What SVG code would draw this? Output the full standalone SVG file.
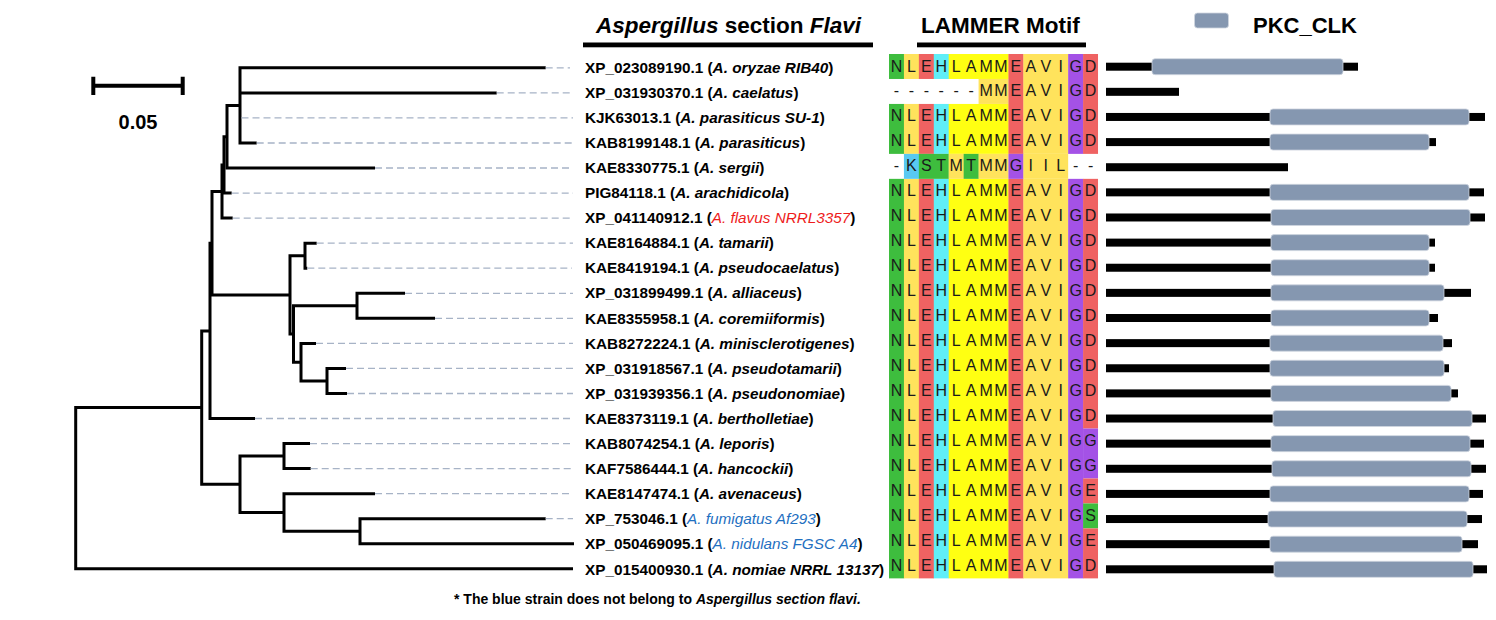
<svg xmlns="http://www.w3.org/2000/svg" width="1496" height="620" viewBox="0 0 1496 620">
<style>
.br{fill:none;stroke:#000;stroke-width:3}
.ld{fill:none;stroke:#a7b3c6;stroke-width:1.3;stroke-dasharray:7 4}
.lb{font-family:"Liberation Sans",Arial,sans-serif;font-weight:bold;font-size:15.3px;fill:#000}
.it{font-style:italic}
.rd{fill:#ee1c1c;font-weight:normal}
.bl{fill:#1f70c1;font-weight:normal}
.ti{font-family:"Liberation Sans",Arial,sans-serif;font-weight:bold;font-size:22.5px;fill:#000}
.mo{font-family:"Liberation Sans",Arial,sans-serif;font-size:16px;fill:#1a1a1a;text-anchor:middle}
.g{fill:#3ebd3e}.y{fill:#ffe35c}.r{fill:#ef6262}.c{fill:#60eef8}.Y{fill:#ffff12}.p{fill:#a452e6}.k{fill:#58c9f2}
.bk{fill:#000}
.dm{fill:#8597b0;stroke:#cfd6e0;stroke-width:0.8}
</style>
<rect width="1496" height="620" fill="#fff"/>

<!-- headers -->
<g id="header-tree">
<text class="ti" x="596" y="33"><tspan class="it">Aspergillus</tspan> section <tspan class="it">Flavi</tspan></text>
<rect x="583" y="42.5" width="290" height="4.8" fill="#000"/>
</g>
<g id="header-motif">
<text class="ti" x="921" y="33">LAMMER Motif</text>
<rect x="917" y="42.5" width="169" height="4.8" fill="#000"/>
</g>
<g id="legend">
<rect class="dm" x="1194.5" y="13" width="34" height="15" rx="3"/>
<text class="ti" x="1253" y="32.5" style="font-size:22px">PKC_CLK</text>
</g>
<g id="scale-bar">
<path d="M93.3,85.7H182.7M93.3,76.7V95M182.7,76.7V95" fill="none" stroke="#000" stroke-width="4"/>
<text x="138" y="129" text-anchor="middle" style="font-family:'Liberation Sans',Arial,sans-serif;font-weight:bold;font-size:20px">0.05</text>
</g>

<!-- tree connectors -->
<g id="connectors">
<path class="br" d="M545.7,67.8H240V143H256.7M240,92.9H496.7M240,117.9H241.5"/>
<path class="br" d="M240,105.4H227V168H375"/>
<path class="br" d="M227,136.7H224V193.1H231.7"/>
<path class="br" d="M224,164.9H222V218.1H232.7"/>
<path class="br" d="M222,191.5H212V294.9H290"/>
<path class="br" d="M212,243.2H210V418.5H255"/>
<path class="br" d="M210,330.9H201.7V484.3H240"/>
<path class="br" d="M201.7,407.6H75.7V568.8H573"/>
<path class="br" d="M305,255.7H290V334H293.5"/>
<path class="br" d="M316.7,243.2H305V268.2H307.3"/>
<path class="br" d="M357,305.8H293.5V362.2H301"/>
<path class="br" d="M405,293.3H357V318.3H435"/>
<path class="br" d="M316,343.4H301V381H327"/>
<path class="br" d="M346,368.4H327V393.5H347"/>
<path class="br" d="M284,456.1H240V512.5H284"/>
<path class="br" d="M310,443.6H284V468.6H310.7"/>
<path class="br" d="M375,493.7H284V531.3H360"/>
<path class="br" d="M545.7,518.7H360V543.8H574"/>
<path class="ld" d="M545.7,67.8H570M496.7,92.9H573M241.5,117.9H573M256.7,143H573M375,168H570M231.7,193.1H573M232.7,218.1H573M316.7,243.2H573M307.3,268.2H572M405,293.3H573M435,318.3H573M316,343.4H573M346,368.4H573M347,393.5H573M255,418.5H573M310,443.6H572M310.7,468.6H572M375,493.7H570M545.7,518.7H573"/>
</g>

<!-- taxa labels -->
<g id="taxon-0"><text class="lb" x="585" y="72.5">XP_023089190.1 (<tspan class="it">A. oryzae RIB40</tspan>)</text></g>
<g id="taxon-1"><text class="lb" x="585" y="97.6">XP_031930370.1 (<tspan class="it">A. caelatus</tspan>)</text></g>
<g id="taxon-2"><text class="lb" x="585" y="122.7">KJK63013.1 (<tspan class="it">A. parasiticus SU-1</tspan>)</text></g>
<g id="taxon-3"><text class="lb" x="585" y="147.8">KAB8199148.1 (<tspan class="it">A. parasiticus</tspan>)</text></g>
<g id="taxon-4"><text class="lb" x="585" y="172.9">KAE8330775.1 (<tspan class="it">A. sergii</tspan>)</text></g>
<g id="taxon-5"><text class="lb" x="585" y="198">PIG84118.1 (<tspan class="it">A. arachidicola</tspan>)</text></g>
<g id="taxon-6"><text class="lb" x="585" y="223.1">XP_041140912.1 (<tspan class="it rd">A. flavus NRRL3357</tspan>)</text></g>
<g id="taxon-7"><text class="lb" x="585" y="248.2">KAE8164884.1 (<tspan class="it">A. tamarii</tspan>)</text></g>
<g id="taxon-8"><text class="lb" x="585" y="273.3">KAE8419194.1 (<tspan class="it">A. pseudocaelatus</tspan>)</text></g>
<g id="taxon-9"><text class="lb" x="585" y="298.4">XP_031899499.1 (<tspan class="it">A. alliaceus</tspan>)</text></g>
<g id="taxon-10"><text class="lb" x="585" y="323.5">KAE8355958.1 (<tspan class="it">A. coremiiformis</tspan>)</text></g>
<g id="taxon-11"><text class="lb" x="585" y="348.6">KAB8272224.1 (<tspan class="it">A. minisclerotigenes</tspan>)</text></g>
<g id="taxon-12"><text class="lb" x="585" y="373.7">XP_031918567.1 (<tspan class="it">A. pseudotamarii</tspan>)</text></g>
<g id="taxon-13"><text class="lb" x="585" y="398.8">XP_031939356.1 (<tspan class="it">A. pseudonomiae</tspan>)</text></g>
<g id="taxon-14"><text class="lb" x="585" y="423.9">KAE8373119.1 (<tspan class="it">A. bertholletiae</tspan>)</text></g>
<g id="taxon-15"><text class="lb" x="585" y="449">KAB8074254.1 (<tspan class="it">A. leporis</tspan>)</text></g>
<g id="taxon-16"><text class="lb" x="585" y="474.1">KAF7586444.1 (<tspan class="it">A. hancockii</tspan>)</text></g>
<g id="taxon-17"><text class="lb" x="585" y="499.2">KAE8147474.1 (<tspan class="it">A. avenaceus</tspan>)</text></g>
<g id="taxon-18"><text class="lb" x="585" y="524.3">XP_753046.1 (<tspan class="it bl">A. fumigatus Af293</tspan>)</text></g>
<g id="taxon-19"><text class="lb" x="585" y="549.4">XP_050469095.1 (<tspan class="it bl">A. nidulans FGSC A4</tspan>)</text></g>
<g id="taxon-20"><text class="lb" x="585" y="574.5">XP_015400930.1 (<tspan class="it">A. nomiae NRRL 13137</tspan>)</text></g>

<!-- motif alignment backgrounds -->
<g id="motif-colors">
<rect class="g" x="889" y="54" width="15.2" height="24.97"/>
<rect class="g" x="889" y="103.94" width="15.2" height="49.94"/>
<rect class="g" x="889" y="178.85" width="15.2" height="399.52"/>
<rect class="y" x="903.93" y="54" width="15.2" height="24.97"/>
<rect class="y" x="903.93" y="103.94" width="15.2" height="49.94"/>
<rect class="y" x="903.93" y="178.85" width="15.2" height="399.52"/>
<rect class="r" x="918.86" y="54" width="15.2" height="24.97"/>
<rect class="r" x="918.86" y="103.94" width="15.2" height="49.94"/>
<rect class="r" x="918.86" y="178.85" width="15.2" height="399.52"/>
<rect class="c" x="933.79" y="54" width="15.2" height="24.97"/>
<rect class="c" x="933.79" y="103.94" width="15.2" height="49.94"/>
<rect class="c" x="933.79" y="178.85" width="15.2" height="399.52"/>
<rect class="Y" x="948.72" y="54" width="60" height="24.97"/>
<rect class="Y" x="948.72" y="103.94" width="60" height="49.94"/>
<rect class="Y" x="948.72" y="178.85" width="60" height="399.52"/>
<rect class="y" x="978.58" y="78.97" width="30" height="24.97"/>
<rect class="r" x="1008.44" y="54" width="15.2" height="99.88"/>
<rect class="r" x="1008.44" y="178.85" width="15.2" height="399.52"/>
<rect class="y" x="1023.37" y="54" width="45" height="99.88"/>
<rect class="y" x="1023.37" y="178.85" width="45" height="399.52"/>
<rect class="p" x="1068.16" y="54" width="15.2" height="99.88"/>
<rect class="p" x="1068.16" y="178.85" width="15.2" height="399.52"/>
<rect class="r" x="1083.09" y="54" width="14.93" height="99.88"/>
<rect class="r" x="1083.09" y="178.85" width="14.93" height="249.7"/>
<rect class="p" x="1083.09" y="428.55" width="14.93" height="49.94"/>
<rect class="r" x="1083.09" y="478.49" width="14.93" height="24.97"/>
<rect class="g" x="1083.09" y="503.46" width="14.93" height="24.97"/>
<rect class="r" x="1083.09" y="528.43" width="14.93" height="49.94"/>
<rect class="k" x="903.93" y="153.88" width="15.2" height="24.97"/>
<rect class="g" x="918.86" y="153.88" width="30" height="24.97"/>
<rect class="y" x="948.72" y="153.88" width="15.2" height="24.97"/>
<rect class="g" x="963.65" y="153.88" width="15.2" height="24.97"/>
<rect class="y" x="978.58" y="153.88" width="30" height="24.97"/>
<rect class="p" x="1008.44" y="153.88" width="15.2" height="24.97"/>
<rect class="y" x="1023.37" y="153.88" width="44.79" height="24.97"/>
</g>
<g id="motif-letters">
<text class="mo" x="896.47 911.4 926.33 941.26 956.19 971.12 986.05 1000.98 1015.91 1030.84 1045.77 1060.7 1075.63 1090.56" y="71.5">NLEHLAMMEAVIGD</text>
<text class="mo" x="896.47 911.4 926.33 941.26 956.19 971.12 986.05 1000.98 1015.91 1030.84 1045.77 1060.7 1075.63 1090.56" y="96.47">------MMEAVIGD</text>
<text class="mo" x="896.47 911.4 926.33 941.26 956.19 971.12 986.05 1000.98 1015.91 1030.84 1045.77 1060.7 1075.63 1090.56" y="121.44">NLEHLAMMEAVIGD</text>
<text class="mo" x="896.47 911.4 926.33 941.26 956.19 971.12 986.05 1000.98 1015.91 1030.84 1045.77 1060.7 1075.63 1090.56" y="146.41">NLEHLAMMEAVIGD</text>
<text class="mo" x="896.47 911.4 926.33 941.26 956.19 971.12 986.05 1000.98 1015.91 1030.84 1045.77 1060.7 1075.63 1090.56" y="171.38">-KSTMTMMGIIL--</text>
<text class="mo" x="896.47 911.4 926.33 941.26 956.19 971.12 986.05 1000.98 1015.91 1030.84 1045.77 1060.7 1075.63 1090.56" y="196.35">NLEHLAMMEAVIGD</text>
<text class="mo" x="896.47 911.4 926.33 941.26 956.19 971.12 986.05 1000.98 1015.91 1030.84 1045.77 1060.7 1075.63 1090.56" y="221.32">NLEHLAMMEAVIGD</text>
<text class="mo" x="896.47 911.4 926.33 941.26 956.19 971.12 986.05 1000.98 1015.91 1030.84 1045.77 1060.7 1075.63 1090.56" y="246.29">NLEHLAMMEAVIGD</text>
<text class="mo" x="896.47 911.4 926.33 941.26 956.19 971.12 986.05 1000.98 1015.91 1030.84 1045.77 1060.7 1075.63 1090.56" y="271.26">NLEHLAMMEAVIGD</text>
<text class="mo" x="896.47 911.4 926.33 941.26 956.19 971.12 986.05 1000.98 1015.91 1030.84 1045.77 1060.7 1075.63 1090.56" y="296.23">NLEHLAMMEAVIGD</text>
<text class="mo" x="896.47 911.4 926.33 941.26 956.19 971.12 986.05 1000.98 1015.91 1030.84 1045.77 1060.7 1075.63 1090.56" y="321.2">NLEHLAMMEAVIGD</text>
<text class="mo" x="896.47 911.4 926.33 941.26 956.19 971.12 986.05 1000.98 1015.91 1030.84 1045.77 1060.7 1075.63 1090.56" y="346.17">NLEHLAMMEAVIGD</text>
<text class="mo" x="896.47 911.4 926.33 941.26 956.19 971.12 986.05 1000.98 1015.91 1030.84 1045.77 1060.7 1075.63 1090.56" y="371.14">NLEHLAMMEAVIGD</text>
<text class="mo" x="896.47 911.4 926.33 941.26 956.19 971.12 986.05 1000.98 1015.91 1030.84 1045.77 1060.7 1075.63 1090.56" y="396.11">NLEHLAMMEAVIGD</text>
<text class="mo" x="896.47 911.4 926.33 941.26 956.19 971.12 986.05 1000.98 1015.91 1030.84 1045.77 1060.7 1075.63 1090.56" y="421.08">NLEHLAMMEAVIGD</text>
<text class="mo" x="896.47 911.4 926.33 941.26 956.19 971.12 986.05 1000.98 1015.91 1030.84 1045.77 1060.7 1075.63 1090.56" y="446.05">NLEHLAMMEAVIGG</text>
<text class="mo" x="896.47 911.4 926.33 941.26 956.19 971.12 986.05 1000.98 1015.91 1030.84 1045.77 1060.7 1075.63 1090.56" y="471.02">NLEHLAMMEAVIGG</text>
<text class="mo" x="896.47 911.4 926.33 941.26 956.19 971.12 986.05 1000.98 1015.91 1030.84 1045.77 1060.7 1075.63 1090.56" y="495.99">NLEHLAMMEAVIGE</text>
<text class="mo" x="896.47 911.4 926.33 941.26 956.19 971.12 986.05 1000.98 1015.91 1030.84 1045.77 1060.7 1075.63 1090.56" y="520.96">NLEHLAMMEAVIGS</text>
<text class="mo" x="896.47 911.4 926.33 941.26 956.19 971.12 986.05 1000.98 1015.91 1030.84 1045.77 1060.7 1075.63 1090.56" y="545.93">NLEHLAMMEAVIGE</text>
<text class="mo" x="896.47 911.4 926.33 941.26 956.19 971.12 986.05 1000.98 1015.91 1030.84 1045.77 1060.7 1075.63 1090.56" y="570.9">NLEHLAMMEAVIGD</text>
</g>

<!-- domain architecture -->
<g id="domains">
<rect class="bk" x="1106" y="62.7" width="252" height="8"/><rect class="dm" x="1152" y="58.7" width="191" height="16" rx="3"/>
<rect class="bk" x="1106" y="87.83" width="73" height="8"/>
<rect class="bk" x="1106" y="112.96" width="379" height="8"/><rect class="dm" x="1270" y="108.96" width="199" height="16" rx="3"/>
<rect class="bk" x="1106" y="138.09" width="330" height="8"/><rect class="dm" x="1270" y="134.09" width="159" height="16" rx="3"/>
<rect class="bk" x="1106" y="163.22" width="182" height="8"/>
<rect class="bk" x="1106" y="188.35" width="378" height="8"/><rect class="dm" x="1270" y="184.35" width="199" height="16" rx="3"/>
<rect class="bk" x="1106" y="213.48" width="379" height="8"/><rect class="dm" x="1271" y="209.48" width="199" height="16" rx="3"/>
<rect class="bk" x="1106" y="238.61" width="329" height="8"/><rect class="dm" x="1271" y="234.61" width="158" height="16" rx="3"/>
<rect class="bk" x="1106" y="263.74" width="329" height="8"/><rect class="dm" x="1271" y="259.74" width="158" height="16" rx="3"/>
<rect class="bk" x="1106" y="288.87" width="365" height="8"/><rect class="dm" x="1271" y="284.87" width="173" height="16" rx="3"/>
<rect class="bk" x="1106" y="314" width="332" height="8"/><rect class="dm" x="1271" y="310" width="158" height="16" rx="3"/>
<rect class="bk" x="1106" y="339.13" width="346" height="8"/><rect class="dm" x="1270" y="335.13" width="173" height="16" rx="3"/>
<rect class="bk" x="1106" y="364.26" width="343" height="8"/><rect class="dm" x="1270" y="360.26" width="174" height="16" rx="3"/>
<rect class="bk" x="1106" y="389.39" width="352" height="8"/><rect class="dm" x="1271" y="385.39" width="180" height="16" rx="3"/>
<rect class="bk" x="1106" y="414.52" width="380" height="8"/><rect class="dm" x="1273" y="410.52" width="199" height="16" rx="3"/>
<rect class="bk" x="1106" y="439.65" width="378" height="8"/><rect class="dm" x="1271" y="435.65" width="199" height="16" rx="3"/>
<rect class="bk" x="1106" y="464.78" width="380" height="8"/><rect class="dm" x="1272" y="460.78" width="199" height="16" rx="3"/>
<rect class="bk" x="1106" y="489.91" width="377" height="8"/><rect class="dm" x="1270" y="485.91" width="199" height="16" rx="3"/>
<rect class="bk" x="1106" y="515.04" width="376" height="8"/><rect class="dm" x="1268" y="511.04" width="199" height="16" rx="3"/>
<rect class="bk" x="1106" y="540.17" width="372" height="8"/><rect class="dm" x="1270" y="536.17" width="192" height="16" rx="3"/>
<rect class="bk" x="1106" y="565.3" width="381" height="8"/><rect class="dm" x="1274" y="561.3" width="199" height="16" rx="3"/>
</g>

<g id="footnote">
<text x="454" y="604" style="font-family:'Liberation Sans',Arial,sans-serif;font-weight:bold;font-size:14px">* The blue strain does not belong to <tspan class="it">Aspergillus section flavi.</tspan></text>
</g>
</svg>
